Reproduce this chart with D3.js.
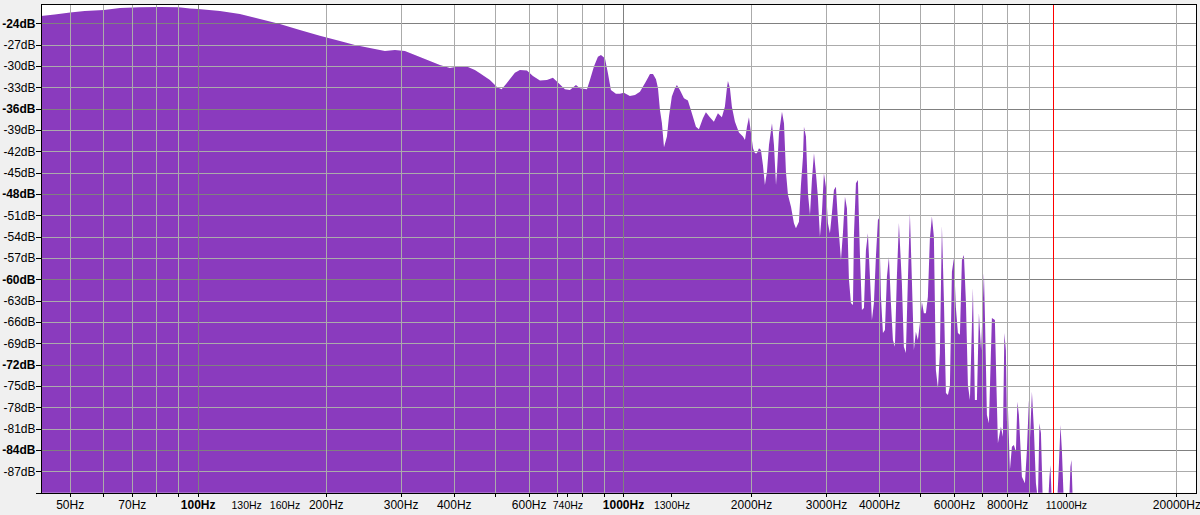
<!DOCTYPE html>
<html><head><meta charset="utf-8">
<script src="https://cdn.jsdelivr.net/npm/d3@7"></script>
<style>
html,body{margin:0;padding:0;background:#f0f0f0;}
svg{display:block;font-family:"Liberation Sans",Arial,sans-serif;}
</style></head><body>
<svg id="chart" width="1200" height="515"></svg>
<script>
// Spectrum: frequency (Hz) and level (dB)
const freqs = [42.7,46,50,54.1,60,65.5,72.9,81.3,90,95.6,100,112.5,125.3,139.7,155.6,173.4,193.2,215.4,233.6,253.3,274.8,290.1,306.2,323.3,350.6,370.1,390.7,412.5,430.7,447.3,459.6,485.2,504,516.9,531.8,555.4,570.6,592.7,612.4,636,660.6,682.3,701.1,728.2,748.2,773,789.9,820.4,833.7,852,870.6,885,904.3,919.1,934.1,959.7,980.6,1002,1035,1064,1093,1129,1154,1173,1192,1205,1218,1231,1245,1265,1279,1299,1321,1335,1357,1387,1417,1440,1480,1504,1537,1562,1596,1631,1667,1703,1731,1750,1760,1779,1798,1828,1868,1909,1930,1951,1972,1994,2016,2037,2059,2082,2104,2127,2150,2174,2198,2234,2258,2283,2295,2320,2358,2384,2409,2436,2476,2516,2543,2585,2613,2642,2656,2685,2714,2744,2773,2804,2834,2864,2896,2927,2959,2991,3024,3057,3090,3124,3158,3192,3245,3280,3316,3352,3388,3425,3463,3481,3519,3557,3596,3635,3675,3715,3755,3796,3837,3879,3921,3964,3990,4029,4073,4117,4162,4207,4253,4299,4346,4393,4441,4513,4562,4612,4662,4713,4764,4816,4868,4921,4975,5029,5084,5140,5195,5252,5309,5367,5425,5485,5544,5605,5666,5728,5790,5853,5917,5981,6046,6112,6179,6246,6314,6383,6452,6523,6629,6701,6774,6848,6930,7036,7080,7151,7229,7347,7467,7530,7590,7714,7798,7860,7925,7970,8012,8099,8187,8276,8366,8434,8503,8643,8785,8880,8977,9026,9124,9224,9324,9425,9502,9581,9685,9952,10033,10088,10170,10448,10563,10649,10735,10852,11150,11240,11301,11394];
const levels = [-22.97,-22.76,-22.51,-22.27,-22.13,-21.85,-21.75,-21.73,-21.75,-21.92,-21.99,-22.27,-22.69,-23.40,-24.10,-24.94,-25.78,-26.49,-27.05,-27.47,-27.89,-27.75,-27.89,-28.46,-29.30,-29.86,-30.29,-30.00,-30.14,-30.57,-31.03,-31.97,-32.96,-33.28,-32.39,-30.95,-30.57,-30.66,-31.41,-32.07,-31.97,-31.65,-32.35,-33.28,-33.38,-32.68,-33.14,-33.28,-31.97,-30.10,-28.70,-28.46,-28.92,-31.03,-33.38,-33.9,-33.9,-33.76,-34.22,-34.1,-33.62,-32.21,-31.13,-31.13,-31.87,-33.10,-36.19,-38.02,-41.44,-39.94,-37.13,-34.32,-33.14,-32.68,-33.38,-34.55,-34.88,-36.19,-38.54,-38.90,-37.36,-36.51,-37.22,-37.84,-36.65,-37.22,-35.73,-33.14,-32.11,-33.14,-35.73,-37.84,-39.38,-39.94,-40.41,-38.54,-37.22,-39.47,-41.58,-42.28,-42.28,-41.58,-41.82,-43.92,-46.74,-44.87,-41.11,-38.06,-41.11,-46.74,-44.87,-39.47,-36.43,-38.06,-44.87,-48.14,-49.79,-52.12,-52.83,-51.90,-46.74,-42.76,-38.54,-39.94,-47.90,-50.95,-46.03,-42.28,-45.09,-48.38,-54.01,-50.72,-45.09,-46.98,-52.12,-53.53,-50.72,-47.44,-46.98,-51.66,-57.28,-53.5,-48.38,-50.0,-60.0,-63.33,-63.61,-53.77,-46.50,-46.03,-56.58,-64.31,-64.03,-55.88,-53.53,-59.63,-65.72,-63.33,-56.82,-51.66,-51.4,-62.44,-67.55,-67.13,-59.63,-56.86,-63.33,-68.53,-69.47,-59.5,-52.08,-60.52,-69.47,-70.36,-60.09,-50.72,-60.09,-69.94,-67.36,-68.53,-66.18,-63.15,-64.78,-64.78,-62.44,-54.23,-51.19,-54.01,-72.75,-75.28,-70.36,-52.46,-62.91,-76.0,-76.26,-75.0,-58.93,-57.04,-64.0,-67.55,-67.8,-57.28,-56.58,-63.15,-74.86,-76.97,-61.22,-76.97,-76.97,-64.78,-70.0,-59.11,-66.0,-79.08,-80.24,-65.44,-65.72,-75.0,-83.06,-80.72,-82.13,-67.55,-70.0,-80.0,-77.91,-86.81,-83.53,-83.29,-84.24,-77.21,-79.08,-87.75,-88.68,-84.00,-76.97,-82.59,-75.80,-81.19,-88.68,-91,-80.24,-81.61,-92,-92,-87.75,-86.11,-92,-92,-85.83,-80.48,-84.24,-92,-92,-86.35,-85.40,-92];

// Axis ticks / labels
const yTickValues = [-24,-27,-30,-33,-36,-39,-42,-45,-48,-51,-54,-57,-60,-63,-66,-69,-72,-75,-78,-81,-84,-87];
const yMajorValues = [-24,-36,-48,-60,-72,-84];
const gridFreqs = [50,60,70,80,90,100,200,300,400,500,600,700,800,900,1000,2000,3000,4000,5000,6000,7000,8000,9000,20000];
const gridMajorFreqs = [100,1000];
const xTickFreqs = [50,60,70,80,90,100,200,300,400,500,600,700,740,800,900,1000,1300,2000,3000,4000,5000,6000,7000,8000,9000,11000,20000];
const xLabelFreqs = [50,70,100,130,160,200,300,400,600,740,1000,1300,2000,3000,4000,6000,8000,11000,20000];
const xLabelTexts = ["50Hz","70Hz","100Hz","130Hz","160Hz","200Hz","300Hz","400Hz","600Hz","740Hz","1000Hz","1300Hz","2000Hz","3000Hz","4000Hz","6000Hz","8000Hz","11000Hz","20000Hz"];
const xLabelSmall = [130,160,740,1300,11000];
const xLabelBold = [100,1000];
const cursorFreq = 10280;

const L = 41, R = 1196, T = 4, B = 492.7;
const svg = d3.select("#chart");
const x = d3.scaleLog().domain([42.7, 22180]).range([L, R]);
const y = d3.scaleLinear().domain([-90, -21.3]).range([B, T]);

svg.append("defs").append("clipPath").attr("id","plotclip")
  .append("rect").attr("x",L).attr("y",T).attr("width",R-L).attr("height",B-T);

svg.append("rect").attr("class","plotbg").attr("x",L).attr("y",T).attr("width",R-L).attr("height",B-T).attr("fill","#ffffff");

const data = freqs.map((f,i)=>({f, db: levels[i]}));
const area = d3.area().x(d=>x(d.f)).y0(y(-95)).y1(d=>y(d.db)).curve(d3.curveLinear);
svg.append("path").attr("class","spectrum").datum(data).attr("d",area).attr("fill","#8a3bbe").attr("clip-path","url(#plotclip)");

const px = v => Math.round(v) + 0.5;
const g = svg.append("g").attr("shape-rendering","crispEdges");
g.selectAll("line.hy").data(yTickValues).join("line").attr("class","hy")
  .attr("x1",L).attr("x2",R).attr("y1",d=>px(y(d))).attr("y2",d=>px(y(d)))
  .attr("stroke",d=>yMajorValues.includes(d)?"#808080":"#ababab").attr("stroke-width",1);
g.selectAll("line.vx").data(gridFreqs).join("line").attr("class","vx")
  .attr("y1",T).attr("y2",B).attr("x1",d=>px(x(d)-0.5)).attr("x2",d=>px(x(d)-0.5))
  .attr("stroke",d=>gridMajorFreqs.includes(d)?"#808080":"#ababab").attr("stroke-width",1);
g.append("rect").attr("class","frame").attr("x",L+0.5).attr("y",T+0.5).attr("width",R-L).attr("height",Math.round(B)-T)
  .attr("fill","none").attr("stroke","#000").attr("stroke-width",1);

const yTickAll = yTickValues.concat([-90]);
g.selectAll("line.yt").data(yTickAll).join("line").attr("class","yt")
  .attr("x1",36).attr("x2",L).attr("y1",d=>px(y(d))).attr("y2",d=>px(y(d))).attr("stroke","#000");
svg.selectAll("text.yl").data(yTickValues).join("text").attr("class","yl")
  .attr("x",35.5).attr("y",d=>y(d)).attr("dy","0.36em").attr("text-anchor","end")
  .attr("font-size","12px").attr("font-weight",d=>yMajorValues.includes(d)?"bold":"normal")
  .attr("fill","#000").text(d=>d+"dB");

g.selectAll("line.xt").data(xTickFreqs).join("line").attr("class","xt")
  .attr("x1",d=>px(x(d)-0.5)).attr("x2",d=>px(x(d)-0.5)).attr("y1",Math.round(B)).attr("y2",Math.round(B)+4).attr("stroke","#000");
svg.selectAll("text.xl").data(xLabelFreqs).join("text").attr("class","xl")
  .attr("x",d=>x(d)).attr("y",509).attr("text-anchor","middle")
  .attr("font-size",d=>xLabelSmall.includes(d)?"10.5px":"12px")
  .attr("font-weight",d=>xLabelBold.includes(d)?"bold":"normal")
  .attr("fill","#000").text((d,i)=>xLabelTexts[i]);

// cursor line on top
svg.append("rect").attr("class","cursor")
  .attr("x",Math.round(x(cursorFreq)-0.5)).attr("y",T+1).attr("width",1).attr("height",Math.round(B)-T-1)
  .attr("fill","#ff0000").attr("shape-rendering","crispEdges");
</script>
</body></html>
